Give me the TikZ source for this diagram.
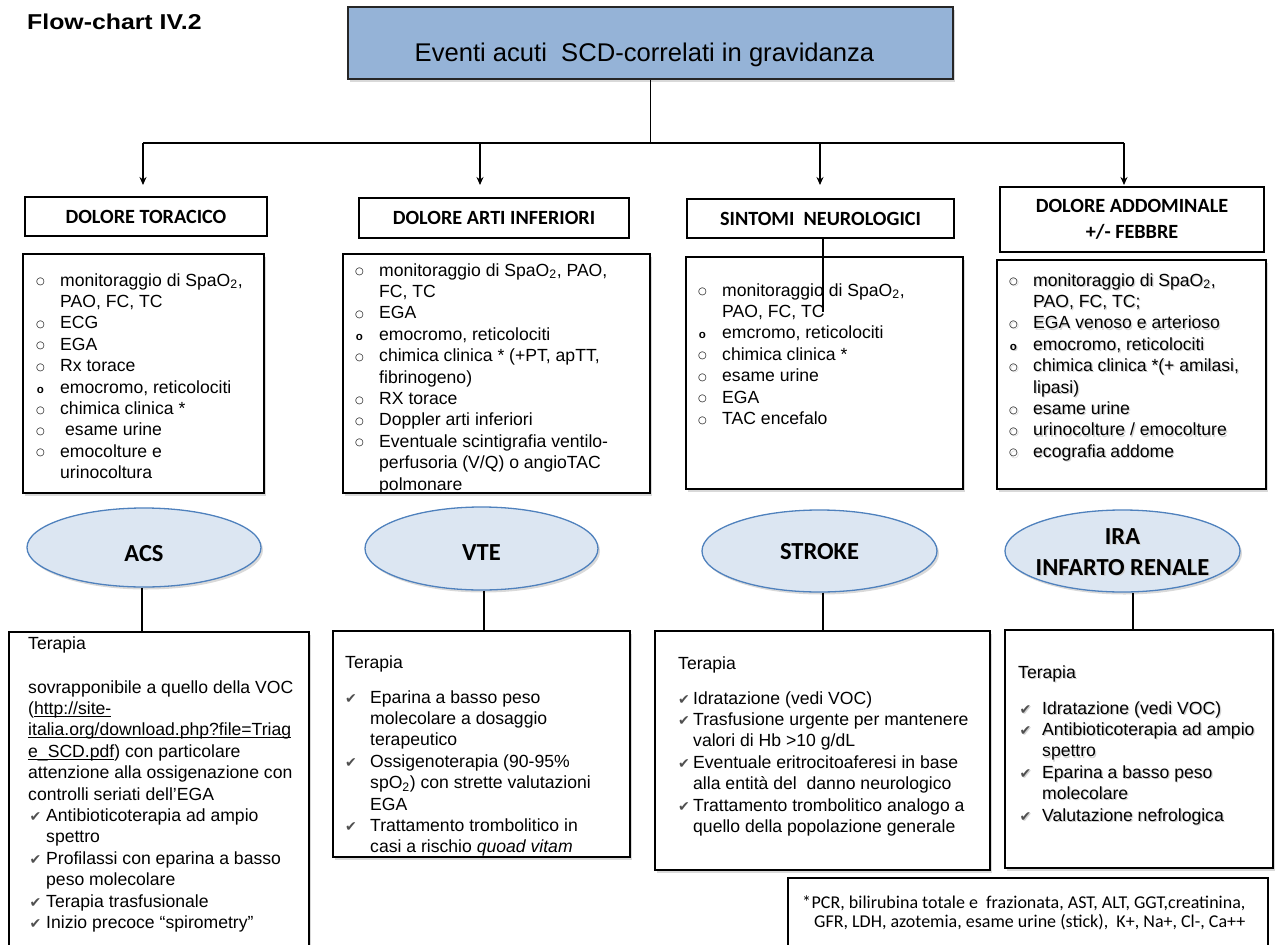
\documentclass[tikz,border=0pt]{standalone}
\usepackage{fontspec}
\setmainfont{Liberation Sans}
\newfontfamily\calib{Carlito}
\newfontfamily\dejavu{DejaVu Sans}
\usetikzlibrary{shapes.geometric,arrows.meta,shadows}

\definecolor{headblue}{RGB}{149,179,215}
\definecolor{ovalfill}{RGB}{220,230,242}
\definecolor{ovalline}{RGB}{79,129,189}
\definecolor{tickgray}{RGB}{80,80,80}

% list markers
\newlength\ind
\newlength\ckx
\newcommand\tkcol{tickgray}
\newcommand\bulA{\makebox[24pt][l]{\raisebox{1.4pt}{\dejavu\fontsize{10}{10}\selectfont ○}}}
\newcommand\bulB{\makebox[24pt][l]{\hspace{0.6pt}\bfseries\fontsize{11.5}{11.5}\selectfont o}}
\newcommand\bulC{\hspace*{24pt}}
\newcommand\tk{\makebox[\ind][l]{\hspace{\ckx}\textcolor{\tkcol}{\dejavu\fontsize{14}{14}\selectfont ✔}}}
\newcommand\tkc{\hspace*{\ind}}
\newcommand\sbt[1]{\textsubscript{#1}}
\newcommand\ulink[1]{\setbox0=\hbox{#1}\rlap{\rule[-2.3pt]{\wd0}{0.9pt}}\box0}
% text with a soft grey copy behind it
\newcommand\txtshadow[1]{\makebox[0pt][l]{\hspace{1.2pt}\raisebox{-1.2pt}{\renewcommand\tkcol{black!18}\color{black!18}#1}}#1}

\tikzset{
  softshadow/.style={drop shadow={shadow xshift=2pt, shadow yshift=-2.5pt, opacity=0.3}},
  boxline/.style={draw=black, line width=1.2pt},
  headbox/.style={boxline, fill=white, inner sep=0pt, align=center,
    font=\calib\bfseries\fontsize{20.2}{26}\selectfont},
  topbox/.style={draw=black!85, line width=1.2pt, fill=headblue, softshadow},
  listbox/.style={boxline, fill=white, softshadow},
  notebox/.style={boxline, fill=white},
  ovalbox/.style={ellipse, draw=ovalline, line width=1.3pt, fill=ovalfill, inner sep=0pt, softshadow},
  ovaltext/.style={inner sep=0pt, font=\calib\bfseries\fontsize{24.5}{31}\selectfont},
  txt/.style={inner sep=0pt, anchor=base west, font=\fontsize{17.6}{21.4}\selectfont},
  conn/.style={line width=1.3pt},
  arr/.style={conn, -{Stealth[length=8pt,width=7pt]}},
}

\begin{document}
\begin{tikzpicture}[x=1pt,y=-1pt]
\useasboundingbox (0,0) rectangle (1278,945);

% title and main heading
\node[anchor=base west, inner sep=0pt, font=\bfseries\fontsize{21.5}{24}\selectfont] (title) at (27,29.5) {\scalebox{1.155}[1]{Flow-chart IV.2}};
\node[topbox, minimum width=605, minimum height=72] (top) at (650.5,43) {};
\node[anchor=base, inner sep=0pt, font=\fontsize{25.6}{30}\selectfont] (toptext) at (644.5,61) {Eventi acuti\ \ SCD-correlati in gravidanza};

% distribution bar
\coordinate (barL) at (143,143);
\coordinate (barR) at (1124,143);
\coordinate (a1) at (143,185);
\coordinate (a2) at (480,185);
\coordinate (a3) at (820,185);
\coordinate (a4) at (1124,185);
\draw[conn] (top.south) -- (top.south |- barL);
\draw[conn] (barL) -- (barR);
\foreach \i in {1,...,4} \draw[arr] (a\i |- barL) -- (a\i);

% headings of the four branches
\node[headbox, minimum width=242, minimum height=39] (h1) at (146,216.5) {DOLORE TORACICO};
\node[headbox, minimum width=270, minimum height=40] (h2) at (494,218) {DOLORE ARTI INFERIORI};
\node[headbox, minimum width=267, minimum height=39] (h3) at (820.5,218.5) {SINTOMI\ \ NEUROLOGICI};
\node[headbox, minimum width=264, minimum height=65] (h4) at (1132,219.5) {DOLORE ADDOMINALE\\+/- FEBBRE};

% examination boxes
\node[listbox, minimum width=241, minimum height=239] (l1) at (143.5,373.5) {};
\node[listbox, minimum width=307, minimum height=239] (l2) at (496.5,373.5) {};
\node[listbox, minimum width=277, minimum height=232] (l3) at (824.5,373) {};
\node[listbox, minimum width=269, minimum height=229] (l4) at (1131.5,374.5) {};

\coordinate (s3) at (823,312);
\draw[conn] (s3 |- h3.south) -- (s3);

% diagnoses
\node[ovalbox, minimum width=234, minimum height=79] (acs) at (144,547.5) {};
\node[ovalbox, minimum width=233, minimum height=83] (vte) at (481.5,548.5) {};
\node[ovalbox, minimum width=235, minimum height=82] (stroke) at (819.5,551) {};
\node[ovalbox, minimum width=235, minimum height=82] (ira) at (1122.5,551) {};
\node[ovaltext] (acst) at (144,554) {ACS};
\node[ovaltext] (vtet) at (481.5,553) {VTE};
\node[ovaltext] (stroket) at (819.5,552) {STROKE};
\node[ovaltext] (irat) at (1122.5,552.5) {\txtshadow{\parbox{220pt}{\centering IRA\\INFARTO RENALE}}};

% therapy boxes
\node[listbox, minimum width=300, minimum height=328] (t1) at (159,796) {};
\node[listbox, minimum width=297, minimum height=226] (t2) at (481.5,744) {};
\node[listbox, minimum width=335, minimum height=239] (t3) at (822.5,750.5) {};
\node[listbox, minimum width=268, minimum height=238] (t4) at (1139,749) {};
\node[notebox, minimum width=480, minimum height=82] (note) at (1028,919) {};

\coordinate (c1) at (142,0);
\coordinate (c2) at (484,0);
\coordinate (c3) at (823,0);
\coordinate (c4) at (1133,0);
\draw[conn] (c1 |- acs.south) -- (c1 |- t1.north);
\draw[conn] (c2 |- vte.south) -- (c2 |- t2.north);
\draw[conn] (c3 |- stroke.south) -- (c3 |- t3.north);
\draw[conn] (c4 |- ira.south) -- (c4 |- t4.north);

% examination lists
\node[txt] (l1t) at (36,286) {\parbox[t]{300pt}{%
\bulA monitoraggio di SpaO\sbt{2},\\
\bulC PAO, FC, TC\\
\bulA ECG\\
\bulA EGA\\
\bulA Rx torace\\
\bulB emocromo, reticolociti\\
\bulA chimica clinica *\\
\bulA\hspace{5pt}esame urine\\
\bulA emocolture e\\
\bulC urinocoltura}};

\node[txt] (l2t) at (355,276) {\parbox[t]{300pt}{%
\bulA monitoraggio di SpaO\sbt{2}, PAO,\\
\bulC FC, TC\\
\bulA EGA\\
\bulB emocromo, reticolociti\\
\bulA chimica clinica * (+PT, apTT,\\
\bulC fibrinogeno)\\
\bulA RX torace\\
\bulA Doppler arti inferiori\\
\bulA Eventuale scintigrafia ventilo-\\
\bulC perfusoria (V/Q) o angioTAC\\
\bulC polmonare}};

\node[txt] (l3t) at (698,296) {\parbox[t]{300pt}{%
\bulA monitoraggio di SpaO\sbt{2},\\
\bulC PAO, FC, TC\\
\bulB emcromo, reticolociti\\
\bulA chimica clinica *\\
\bulA esame urine\\
\bulA EGA\\
\bulA TAC encefalo}};

\node[txt] (l4t) at (1009,286) {\txtshadow{\parbox[t]{300pt}{%
\bulA monitoraggio di SpaO\sbt{2},\\
\bulC PAO, FC, TC;\\
\bulA EGA venoso e arterioso\\
\bulB emocromo, reticolociti\\
\bulA chimica clinica *(+ amilasi,\\
\bulC lipasi)\\
\bulA esame urine\\
\bulA urinocolture / emocolture\\
\bulA ecografia addome}}};

% therapy texts
\node[txt] (t1t) at (28,649) {\parbox[t]{400pt}{\setlength\ind{18pt}\setlength\ckx{1.5pt}%
Terapia\\[22.6pt]
sovrapponibile a quello della VOC\\
(\ulink{http://site-}\\
\ulink{italia.org/download.php?file=Triag}\\
\ulink{e\_SCD.pdf} ) con particolare\\
attenzione alla ossigenazione con\\
controlli seriati dell’EGA\\
\tk Antibioticoterapia ad ampio\\
\tkc spettro\\
\tk Profilassi con eparina a basso\\
\tkc peso molecolare\\
\tk Terapia trasfusionale\\
\tk Inizio precoce “spirometry”}};

\node[txt] (t2t) at (345,668) {\parbox[t]{400pt}{\setlength\ind{25pt}\setlength\ckx{0pt}%
Terapia\\[13.6pt]
\tk Eparina a basso peso\\
\tkc molecolare a dosaggio\\
\tkc terapeutico\\
\tk Ossigenoterapia (90-95\%\\
\tkc spO\sbt{2}) con strette valutazioni\\
\tkc EGA\\
\tk Trattamento trombolitico in\\
\tkc casi a rischio \textit{quoad vitam}}};

\node[txt] (t3t) at (678,669) {\parbox[t]{400pt}{\setlength\ind{15pt}\setlength\ckx{0pt}%
Terapia\\[13.6pt]
\tk Idratazione (vedi VOC)\\
\tk Trasfusione urgente per mantenere\\
\tkc valori di Hb >10 g/dL\\
\tk Eventuale eritrocitoaferesi in base\\
\tkc alla entità del\ \ danno neurologico\\
\tk Trattamento trombolitico analogo a\\
\tkc quello della popolazione generale}};

\node[txt] (t4t) at (1018,678) {\txtshadow{\parbox[t]{400pt}{\setlength\ind{24pt}\setlength\ckx{1.5pt}%
Terapia\\[14.6pt]
\tk Idratazione (vedi VOC)\\
\tk Antibioticoterapia ad ampio\\
\tkc spettro\\
\tk Eparina a basso peso\\
\tkc molecolare\\
\tk Valutazione nefrologica}}};

% footnote on the laboratory panel
\node[txt, font=\calib\fontsize{18}{19}\selectfont] (notet) at (802,908.5) {\parbox[t]{470pt}{%
\makebox[9.5pt][l]{*}PCR, bilirubina totale e\ \ frazionata, AST, ALT, GGT,creatinina,\\
\hspace*{12pt}GFR, LDH, azotemia, esame urine (stick),\ \ K+, Na+, Cl-, Ca++}};
\end{tikzpicture}
\end{document}
